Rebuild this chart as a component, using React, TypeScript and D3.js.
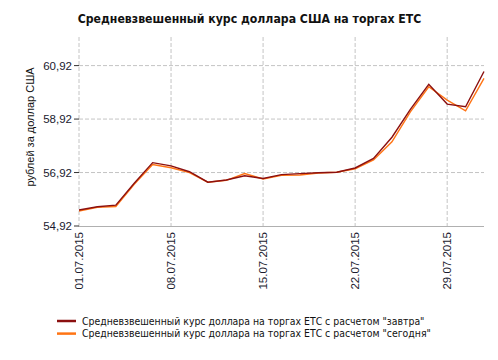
import React from 'react';
import * as d3 from 'd3';

// trading days, July 2015
const dates = [
    '01.07.2015', '02.07.2015', '03.07.2015', '06.07.2015', '07.07.2015', '08.07.2015',
    '09.07.2015', '10.07.2015', '13.07.2015', '14.07.2015', '15.07.2015', '16.07.2015',
    '17.07.2015', '20.07.2015', '21.07.2015', '22.07.2015', '23.07.2015', '24.07.2015',
    '27.07.2015', '28.07.2015', '29.07.2015', '30.07.2015', '31.07.2015'
];
const labelledDates = ['01.07.2015', '08.07.2015', '15.07.2015', '22.07.2015', '29.07.2015'];

// "завтра"
const tomorrowRate = [
    55.52, 55.64, 55.70, 56.52, 57.29, 57.17, 56.95, 56.56, 56.64, 56.80, 56.70, 56.84,
    56.88, 56.91, 56.93, 57.09, 57.45, 58.24, 59.28, 60.22, 59.48, 59.38, 60.70
];
// "сегодня"
const todayRate = [
    55.48, 55.62, 55.65, 56.48, 57.22, 57.10, 56.92, 56.56, 56.63, 56.88, 56.68, 56.82,
    56.83, 56.90, 56.93, 57.06, 57.39, 58.07, 59.19, 60.13, 59.63, 59.23, 60.44
];

const yTicks = [54.92, 56.92, 58.92, 60.92];
const yDomain: [number, number] = [54.92, 61.99];

const title = 'Средневзвешенный курс доллара США на торгах ЕТС';
const yTitle = 'рублей за доллар США';
const seriesNames = [
    'Средневзвешенный курс доллара на торгах ЕТС с расчетом "завтра"',
    'Средневзвешенный курс доллара на торгах ЕТС с расчетом "сегодня"'
];
const colors = ['#8b1010', '#ff7414'];

const App: React.FC = () => {
    const width = 498;
    const height = 360;
    const margin = { top: 37, right: 14, bottom: 134, left: 79 };
    const innerW = width - margin.left - margin.right;
    const innerH = height - margin.top - margin.bottom;

    const x = d3.scalePoint<string>().domain(dates).range([0, innerW]);
    const y = d3.scaleLinear().domain(yDomain).range([innerH, 0]);

    const line = d3.line<number>()
        .x((_, i) => x(dates[i]) as number)
        .y(d => y(d));

    const fmt = (v: number) => v.toFixed(2).replace('.', ',');

    return (
        <svg width={width} height={height} style={{ position: 'absolute', left: 0, top: 0 }}>
            <rect width={width} height={height} fill="#fff" />
            <text x={249.5} y={23} textAnchor="middle" fontFamily="DejaVu Sans Condensed" fontSize={12.2}
                fontWeight="bold" fill="#111">{title}</text>
            <g transform={`translate(${margin.left},${margin.top})`}>
                {/* grid */}
                {yTicks.slice(1).map(t => (
                    <line key={t} x1={0} x2={innerW} y1={y(t)} y2={y(t)}
                        stroke="#c4c4c4" strokeDasharray="4,2" />
                ))}
                {labelledDates.map(d => (
                    <line key={d} x1={x(d)} x2={x(d)} y1={0} y2={innerH + 3}
                        stroke="#c4c4c4" strokeDasharray="4,2" />
                ))}
                <line x1={0} x2={innerW} y1={innerH + 0.5} y2={innerH + 0.5} stroke="#b0b0b0" />
                {/* y axis ticks */}
                {yTicks.map(t => (
                    <g key={t} transform={`translate(0,${y(t)})`}>
                        <line x1={-5} x2={0} stroke="#333" />
                        <text x={-7} dy="0.35em" textAnchor="end" fontFamily="Liberation Sans"
                            fontSize={11.5} fill="#1a1a2e">{fmt(t)}</text>
                    </g>
                ))}
                {/* x labels */}
                {labelledDates.map(d => (
                    <text key={d} transform={`translate(${x(d)},${innerH + 6}) rotate(-90)`}
                        textAnchor="end" dy="0.35em" fontFamily="Liberation Sans" fontSize={11.5}
                        fill="#1a1a2e">{d}</text>
                ))}
                {/* series */}
                <path d={line(todayRate) || ''} fill="none" stroke={colors[1]} strokeWidth={1.4} />
                <path d={line(tomorrowRate) || ''} fill="none" stroke={colors[0]} strokeWidth={1.4} />
            </g>
            <text transform={`translate(34,127) rotate(-90)`}
                textAnchor="middle" fontFamily="Liberation Sans" fontSize={11} fill="#111">{yTitle}</text>
            {/* legend */}
            {seriesNames.map((name, i) => (
                <g key={name} transform={`translate(57,${321 + i * 12.6})`}>
                    <line x1={0} x2={19} stroke={colors[i]} strokeWidth={2.5} />
                    <text x={25} dy="0.35em" fontFamily="DejaVu Sans Condensed" fontSize={10.4} fill="#111">{name}</text>
                </g>
            ))}
        </svg>
    );
};

export default App;
